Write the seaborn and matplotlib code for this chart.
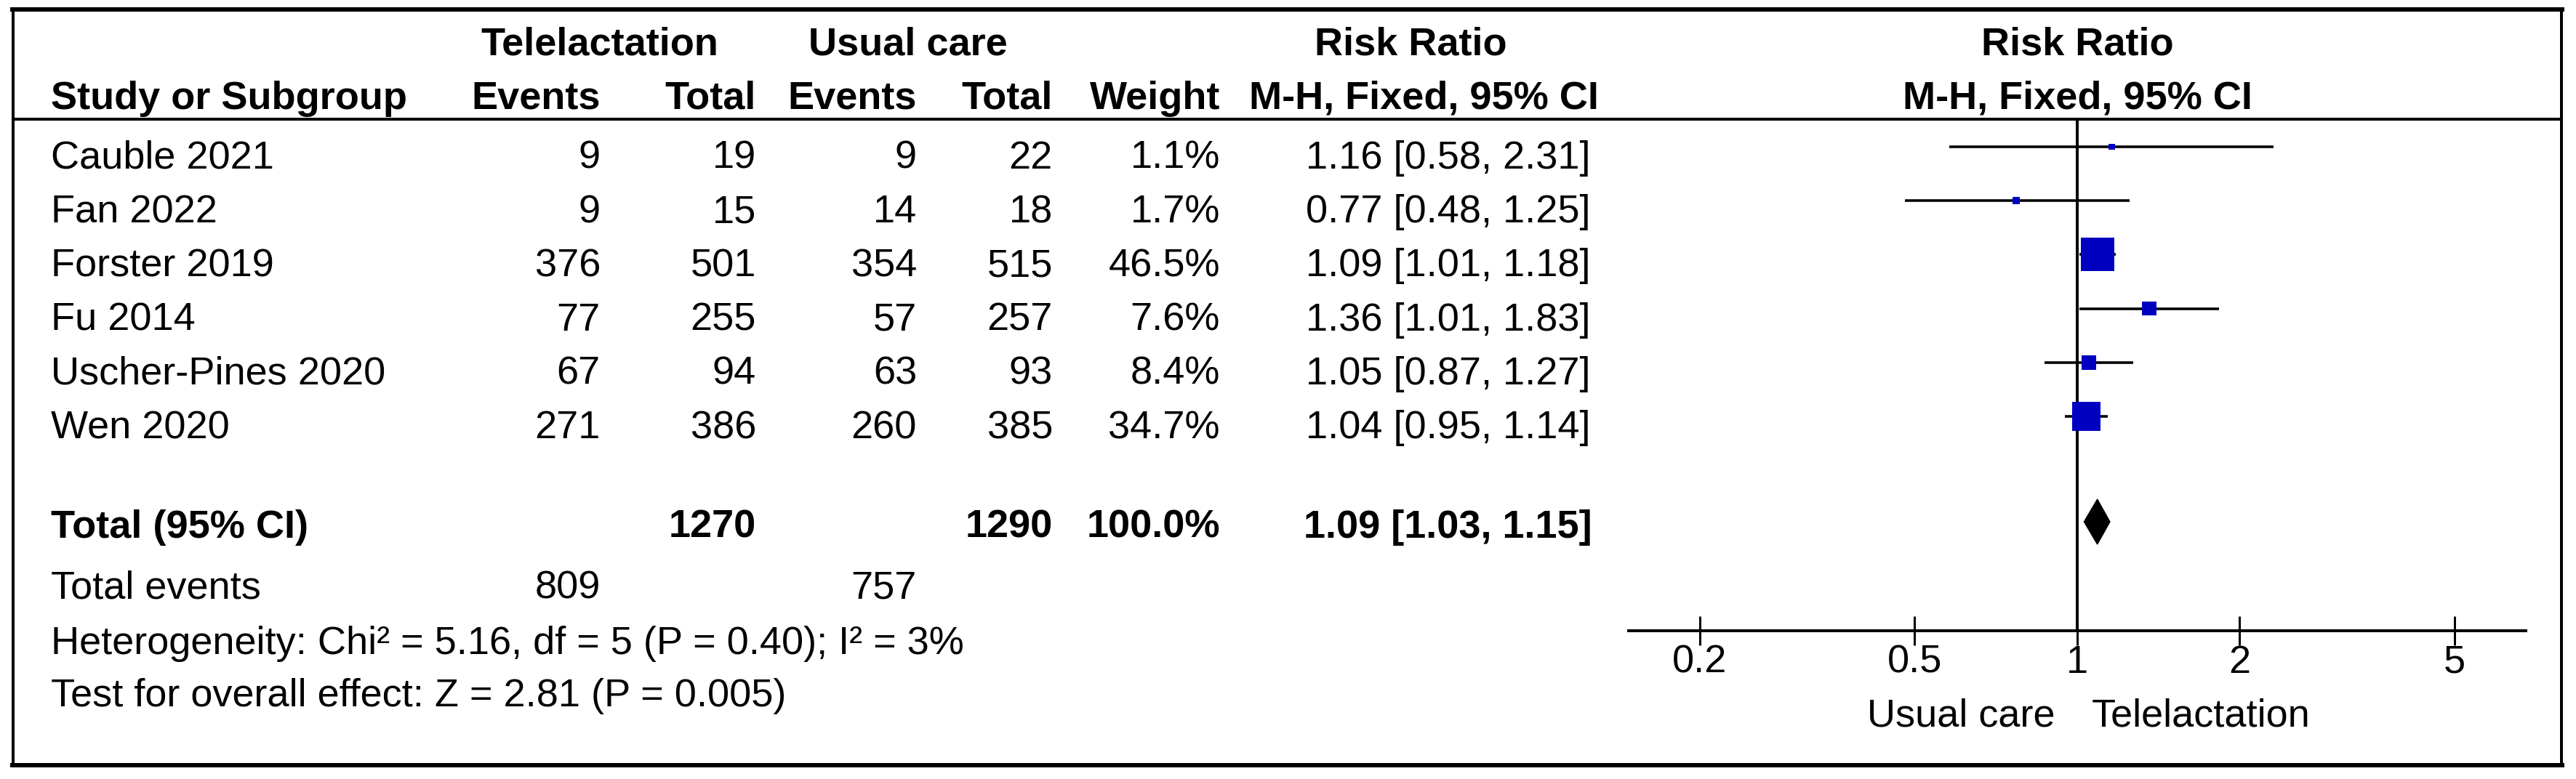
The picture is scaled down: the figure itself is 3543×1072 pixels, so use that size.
import matplotlib
matplotlib.use("Agg")
import matplotlib.pyplot as plt
from matplotlib.patches import Polygon
import seaborn as sns
import pandas as pd

# ---------------- data ----------------
studies = ["Cauble 2021", "Fan 2022", "Forster 2019", "Fu 2014", "Uscher-Pines 2020", "Wen 2020"]
tel_events = [9, 9, 376, 77, 67, 271]
tel_total = [19, 15, 501, 255, 94, 386]
uc_events = [9, 14, 354, 57, 63, 260]
uc_total = [22, 18, 515, 257, 93, 385]
weights = [1.1, 1.7, 46.5, 7.6, 8.4, 34.7]
rr = [1.16, 0.77, 1.09, 1.36, 1.05, 1.04]
rr_lo = [0.58, 0.48, 1.01, 1.01, 0.87, 0.95]
rr_hi = [2.31, 1.25, 1.18, 1.83, 1.27, 1.14]

total_tel_n = 1270
total_uc_n = 1290
total_weight = 100.0
total_rr, total_lo, total_hi = 1.09, 1.03, 1.15
total_tel_events = 809
total_uc_events = 757
heterogeneity = "Heterogeneity: Chi\u00b2 = 5.16, df = 5 (P = 0.40); I\u00b2 = 3%"
overall = "Test for overall effect: Z = 2.81 (P = 0.005)"

tick_values = [0.2, 0.5, 1, 2, 5]
tick_labels = ["0.2", "0.5", "1", "2", "5"]
favours_left = "Usual care"
favours_right = "Telelactation"

# ---------------- style ----------------
sns.set_theme(style="white")
plt.rcParams["font.family"] = ["Liberation Sans", "DejaVu Sans"]

W, H, DPI = 3543, 1072, 100
PT = 72.0 / DPI  # points per pixel
FS = 39

fig = plt.figure(figsize=(W / DPI, H / DPI), dpi=DPI)
fig.patch.set_facecolor("white")

# background axes in pixel units (for table text and frame)
bg = fig.add_axes([0, 0, 1, 1])
bg.set_xlim(0, W)
bg.set_ylim(H, 0)
bg.axis("off")

# frame
bg.plot([17, 3524], [13, 13], color="black", lw=6 * PT, solid_capstyle="projecting")
bg.plot([17, 3524], [1053, 1053], color="black", lw=6 * PT, solid_capstyle="projecting")
bg.plot([18, 18], [13, 1053], color="black", lw=4 * PT)
bg.plot([3523, 3523], [13, 1053], color="black", lw=4 * PT)
bg.plot([18, 3523], [164, 164], color="black", lw=4 * PT)

# column positions (pixels)
x_name = 70
x_te, x_tt, x_ue, x_ut, x_w, x_ci = 826, 1040, 1261, 1448, 1678, 2188

def txt(x, y, s, ha="left", bold=False):
    bg.text(x, y, s, ha=ha, va="baseline", fontsize=FS,
            fontweight="bold" if bold else "normal", color="black")

# headers
txt(825, 75, "Telelactation", ha="center", bold=True)
txt(1249, 75, "Usual care", ha="center", bold=True)
txt(1940, 75, "Risk Ratio", ha="center", bold=True)
txt(2857, 75, "Risk Ratio", ha="center", bold=True)
txt(x_name, 150, "Study or Subgroup", bold=True)
txt(x_te, 150, "Events", ha="right", bold=True)
txt(x_tt, 150, "Total", ha="right", bold=True)
txt(x_ue, 150, "Events", ha="right", bold=True)
txt(x_ut, 150, "Total", ha="right", bold=True)
txt(x_w, 150, "Weight", ha="right", bold=True)
txt(1958, 150, "M-H, Fixed, 95% CI", ha="center", bold=True)
txt(2857, 150, "M-H, Fixed, 95% CI", ha="center", bold=True)

# study rows
row0, step = 232, 74.2
for i, s in enumerate(studies):
    yb = row0 + i * step
    txt(x_name, yb, s)
    txt(x_te, yb, f"{tel_events[i]}", ha="right")
    txt(x_tt, yb, f"{tel_total[i]}", ha="right")
    txt(x_ue, yb, f"{uc_events[i]}", ha="right")
    txt(x_ut, yb, f"{uc_total[i]}", ha="right")
    txt(x_w, yb, f"{weights[i]:.1f}%", ha="right")
    txt(x_ci, yb, f"{rr[i]:.2f} [{rr_lo[i]:.2f}, {rr_hi[i]:.2f}]", ha="right")

# total rows
txt(x_name, 740, "Total (95% CI)", bold=True)
txt(x_tt, 740, f"{total_tel_n}", ha="right", bold=True)
txt(x_ut, 740, f"{total_uc_n}", ha="right", bold=True)
txt(x_w, 740, f"{total_weight:.1f}%", ha="right", bold=True)
txt(x_ci + 2, 740, f"{total_rr:.2f} [{total_lo:.2f}, {total_hi:.2f}]", ha="right", bold=True)
txt(x_name, 823, "Total events")
txt(x_te, 823, f"{total_tel_events}", ha="right")
txt(x_ue, 823, f"{total_uc_events}", ha="right")
txt(x_name, 900, heterogeneity)
txt(x_name, 972, overall)

# favours labels
txt(2827, 1000, favours_left, ha="right")
txt(2877, 1000, favours_right, ha="left")

# ---------------- forest axes ----------------
ax_left, ax_right, ax_top, ax_bot = 2240, 3474, 164, 868
fa = fig.add_axes([ax_left / W, 1 - ax_bot / H, (ax_right - ax_left) / W, (ax_bot - ax_top) / H])
fa.set_xscale("log")
fa.set_xlim(0.1476, 6.78)
# y in row units: rows at pixel 202 + i*74.2
ypix0 = 202
fa.set_ylim((ax_bot - ypix0) / step, (ax_top - ypix0) / step)
fa.patch.set_alpha(0)

rows = list(range(len(studies)))
total_row = (718 - ypix0) / step

df = pd.DataFrame({"study": studies, "rr": rr, "lo": rr_lo, "hi": rr_hi,
                   "weight": weights, "row": rows})

fa.axvline(1, color="black", lw=4 * PT, zorder=1)
fa.hlines(df["row"], df["lo"], df["hi"], color="black", lw=3.6 * PT, zorder=2)
sns.scatterplot(data=df, x="rr", y="row", size="weight", sizes=(40, 1100),
                size_norm=(min(weights), max(weights)), marker="s",
                color="#0000C0", edgecolor="none", linewidth=0,
                legend=False, ax=fa, zorder=3)

half_h = 31 / step
diamond = Polygon([(total_lo, total_row), (total_rr, total_row - half_h),
                   (total_hi, total_row), (total_rr, total_row + half_h)],
                  closed=True, facecolor="black", edgecolor="black", lw=1, zorder=3)
fa.add_patch(diamond)

for side in ["top", "left", "right"]:
    fa.spines[side].set_visible(False)
fa.spines["bottom"].set_color("black")
fa.spines["bottom"].set_linewidth(4 * PT)
fa.set_xticks(tick_values)
fa.set_xticklabels(tick_labels)
fa.xaxis.set_minor_locator(matplotlib.ticker.NullLocator())
fa.tick_params(axis="x", direction="inout", length=40 * PT, width=3 * PT,
               labelsize=FS, pad=-1, colors="black", bottom=True)
fa.set_yticks([])
fa.set_xlabel("")
fa.set_ylabel("")
fa.grid(False)

fig.savefig("out.png", dpi=DPI, facecolor="white")
